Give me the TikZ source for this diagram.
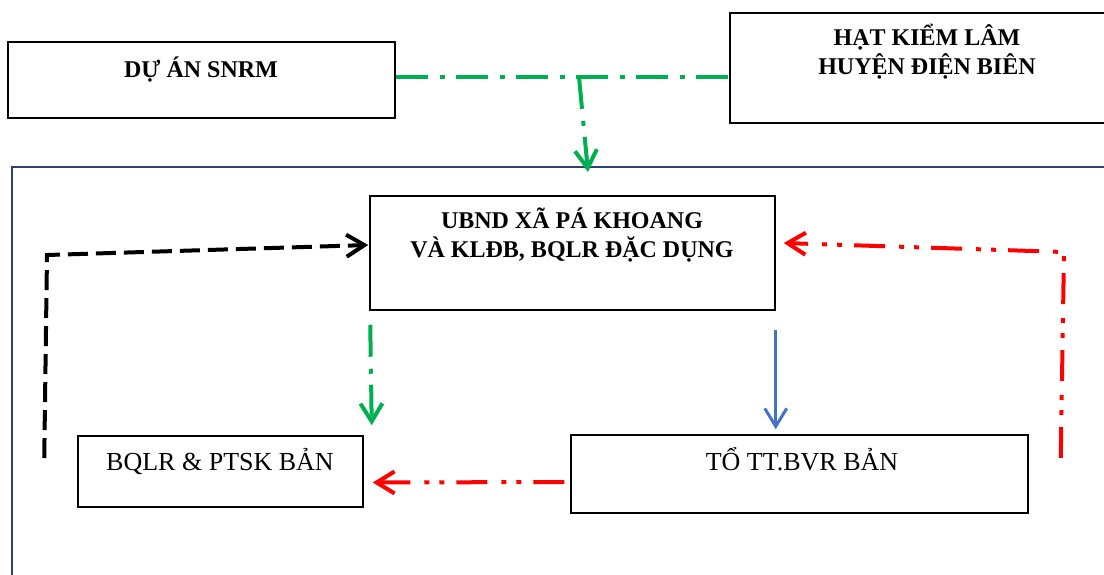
\documentclass[tikz,border=0pt]{standalone}
\usepackage{fontspec}
\setmainfont{Liberation Serif}
\usetikzlibrary{arrows.meta}
\usetikzlibrary{fit}
\definecolor{officegreen}{RGB}{0,176,80}
\definecolor{officeblue}{RGB}{68,114,196}
\definecolor{framenavy}{RGB}{47,64,110}

\tikzset{
  box/.style={draw, line width=0.75pt, inner sep=0pt},
  headtxt/.style={font=\fontsize{12}{14.5}\selectfont\bfseries, align=center, inner sep=0pt},
  bodytxt/.style={font=\fontsize{13}{15}\selectfont, inner sep=0pt},
  greenlink/.style={officegreen, line width=2pt, dash pattern=on 16pt off 6pt on 2.5pt off 5.5pt},
  redlink/.style={red, line width=2pt, dash pattern=on 15.5pt off 6pt on 2.5pt off 5pt on 2.5pt off 7pt},
  blacklink/.style={black, line width=2pt, dash pattern=on 10pt off 4pt},
  bluelink/.style={officeblue, line width=1.5pt},
  >={Straight Barb[length=9pt,width=11pt]}
}

\begin{document}
\begin{tikzpicture}[x=0.5pt, y=-0.5pt]
\useasboundingbox (0,0) rectangle (1104,574);
% outer frame
\draw[framenavy, line width=1pt] (1110,167) -- (12,167) -- (12,580);

% boxes
\node[box, fit={(8,42) (395,118)}] (snrm) {};
\node[box, fit={(730,13) (1110,123)}] (hkl) {};
\node[box, fit={(370,196) (775,310)}] (ubnd) {};
\node[box, fit={(78,436) (363,507)}] (bqlr) {};
\node[box, fit={(571,435) (1028,513)}] (tott) {};

% texts
\node[headtxt, anchor=base] (snrmtxt) at (201,77) {DỰ ÁN SNRM};
\node[headtxt] (hkltxt) at (927,52) {HẠT KIỂM LÂM\\HUYỆN ĐIỆN BIÊN};
\node[headtxt] (ubndtxt) at (572,235) {UBND XÃ PÁ KHOANG\\VÀ KLĐB, BQLR ĐẶC DỤNG};
\node[bodytxt, anchor=base] (bqlrtxt) at (220,470) {BQLR \& PTSK BẢN};
\node[bodytxt, anchor=base] (totttxt) at (802,470) {TỔ TT.BVR BẢN};

% green links
\coordinate (jn) at (579,77);
\coordinate (greenend) at (588,172);
\draw[greenlink] (snrm.east |- jn) -- (hkl.west |- jn);
\draw[greenlink, ->] (jn) -- (greenend);
\draw[greenlink, ->] ([xshift=0.5pt,yshift=-7pt]ubnd.south west) -- ([xshift=4pt,yshift=5pt]bqlr.north east);

% blue link
\draw[bluelink, ->] ([yshift=-9.5pt]ubnd.south east) -- ([yshift=2.5pt]ubnd.south east |- tott.north);

% red links
\draw[redlink, ->] ([xshift=-3pt,yshift=-4pt]tott.west) -- ([xshift=4.5pt,yshift=-5.5pt]bqlr.east);
\draw[redlink, ->] ([xshift=16pt,yshift=8pt]tott.east) -- (1064,252) -- ([xshift=4pt,yshift=5pt]ubnd.east);

% black link
\draw[blacklink, ->] ([xshift=-16.5pt,yshift=6.75pt]bqlr.west) -- (47,255) -- ([xshift=-0.5pt,yshift=4pt]ubnd.west);
\end{tikzpicture}
\end{document}
